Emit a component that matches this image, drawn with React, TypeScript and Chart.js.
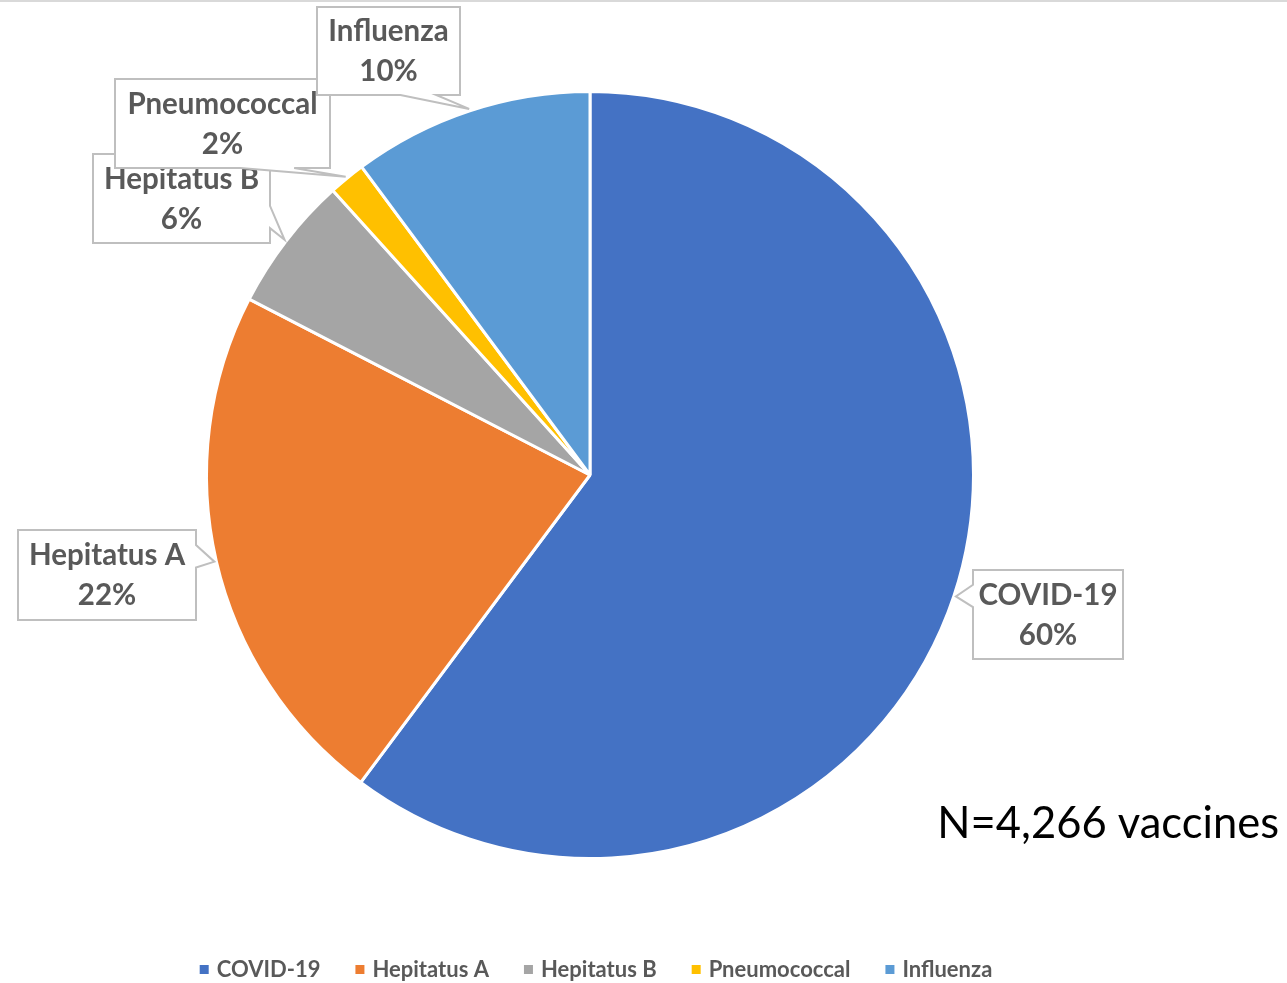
import React, { useEffect, useRef } from 'react';
import { Chart, registerables } from 'chart.js';

Chart.register(...registerables);

// ---- data ----
const categories = ['COVID-19', 'Hepitatus A', 'Hepitatus B', 'Pneumococcal', 'Influenza'];
const vaccineCounts = [2568, 955, 244, 66, 433];
const sliceColors = ['#4472C4', '#ED7D31', '#A5A5A5', '#FFC000', '#5B9BD5'];
const totalNote = 'N=4,266 vaccines';

// ---- layout of annotation callouts (left, top, width, height) ----
const calloutBoxes = [
  { x: 973, y: 570, w: 150, h: 89 },
  { x: 18, y: 530, w: 178, h: 90 },
  { x: 93, y: 154, w: 177, h: 89 },
  { x: 115, y: 79, w: 215, h: 89 },
  { x: 317, y: 7, w: 143, h: 88 },
];

const W = 1287;
const H = 983;
const FONT = 'Lato, "Noto Sans", sans-serif';
const TEXT_GRAY = '#595959';

function drawCallout(ctx: CanvasRenderingContext2D, b: { x: number; y: number; w: number; h: number }, tx: number, ty: number) {
  const L = b.x, R = b.x + b.w, T = b.y, B = b.y + b.h;
  const cx = b.x + b.w / 2, cy = b.y + b.h / 2;
  const nx = (tx - cx) / (b.w / 2);
  const ny = (ty - cy) / (b.h / 2);
  const inside = Math.abs(nx) <= 1 && Math.abs(ny) <= 1;
  let side = '';
  if (!inside) {
    if (Math.abs(ny) >= Math.abs(nx)) side = ny < 0 ? 'top' : 'bottom';
    else side = nx < 0 ? 'left' : 'right';
  }
  const xa = tx > cx ? L + (b.w * 7) / 12 : L + (b.w * 2) / 12;
  const xb = tx > cx ? L + (b.w * 10) / 12 : L + (b.w * 5) / 12;
  const ya = ty > cy ? T + (b.h * 7) / 12 : T + (b.h * 2) / 12;
  const yb = ty > cy ? T + (b.h * 10) / 12 : T + (b.h * 5) / 12;
  ctx.beginPath();
  ctx.moveTo(L, T);
  if (side === 'top') { ctx.lineTo(xa, T); ctx.lineTo(tx, ty); ctx.lineTo(xb, T); }
  ctx.lineTo(R, T);
  if (side === 'right') { ctx.lineTo(R, ya); ctx.lineTo(tx, ty); ctx.lineTo(R, yb); }
  ctx.lineTo(R, B);
  if (side === 'bottom') { ctx.lineTo(xb, B); ctx.lineTo(tx, ty); ctx.lineTo(xa, B); }
  ctx.lineTo(L, B);
  if (side === 'left') { ctx.lineTo(L, yb); ctx.lineTo(tx, ty); ctx.lineTo(L, ya); }
  ctx.closePath();
  ctx.fillStyle = '#ffffff';
  ctx.fill();
  ctx.strokeStyle = '#BFBFBF';
  ctx.lineWidth = 2;
  ctx.stroke();
}

const annotationPlugin = {
  id: 'annotations',
  beforeDraw(chart: any) {
    const ctx = chart.ctx as CanvasRenderingContext2D;
    ctx.save();
    ctx.fillStyle = '#ffffff';
    ctx.fillRect(0, 0, chart.width, chart.height);
    ctx.fillStyle = '#D9D9D9';
    ctx.fillRect(0, 0, chart.width, 2);
    ctx.restore();
  },
  afterDraw(chart: any) {
    const ctx = chart.ctx as CanvasRenderingContext2D;
    const meta = chart.getDatasetMeta(0);
    const data = chart.data.datasets[0].data as number[];
    const total = data.reduce((a, v) => a + v, 0);
    ctx.save();
    // callouts
    meta.data.forEach((arc: any, i: number) => {
      const mid = (arc.startAngle + arc.endAngle) / 2;
      const r = arc.outerRadius + 2;
      const tx = arc.x + Math.cos(mid) * r;
      const ty = arc.y + Math.sin(mid) * r;
      const b = calloutBoxes[i];
      drawCallout(ctx, b, tx, ty);
      const cx = b.x + b.w / 2;
      const cy = b.y + b.h / 2;
      ctx.fillStyle = TEXT_GRAY;
      ctx.font = `bold 29.5px ${FONT}`;
      ctx.textAlign = 'center';
      ctx.textBaseline = 'alphabetic';
      ctx.fillText(String(chart.data.labels[i]), cx, cy - 10);
      ctx.fillText(`${Math.round((data[i] / total) * 100)}%`, cx, cy + 30);
    });

    // N note
    ctx.fillStyle = '#000000';
    ctx.font = `43.5px ${FONT}`;
    ctx.textAlign = 'right';
    ctx.textBaseline = 'alphabetic';
    ctx.fillText(totalNote, 1279, 838);

    // legend
    ctx.font = `bold 22px ${FONT}`;
    ctx.textAlign = 'left';
    const box = 9, gapText = 8, gapItem = 35;
    const widths = (chart.data.labels as string[]).map((l) => ctx.measureText(l).width);
    const totalW = widths.reduce((a, w) => a + box + gapText + w, 0) + gapItem * (widths.length - 1);
    const centerX = (chart.chartArea.left + chart.chartArea.right) / 2 + 6;
    let x = centerX - totalW / 2;
    const baseY = 977;
    (chart.data.labels as string[]).forEach((l, i) => {
      ctx.fillStyle = sliceColors[i];
      ctx.fillRect(x, baseY - 12, box, box);
      x += box + gapText;
      ctx.fillStyle = TEXT_GRAY;
      ctx.fillText(l, x, baseY);
      x += widths[i] + gapItem;
    });
    ctx.restore();
  },
};

export default function App() {
  const canvasRef = useRef<HTMLCanvasElement | null>(null);

  useEffect(() => {
    document.body.style.margin = '0';
    const canvas = canvasRef.current;
    if (!canvas) return;
    const chart = new Chart(canvas, {
      type: 'pie',
      data: {
        labels: categories,
        datasets: [
          {
            data: vaccineCounts,
            backgroundColor: sliceColors,
            borderColor: '#ffffff',
            borderWidth: 3,
          },
        ],
      },
      options: {
        responsive: false,
        maintainAspectRatio: false,
        animation: false,
        devicePixelRatio: 1,
        layout: { padding: { left: 205, right: W - 975, top: 90, bottom: H - 860 } },
        plugins: {
          legend: { display: false },
          tooltip: { enabled: false },
        },
      },
      plugins: [annotationPlugin],
    });
    return () => chart.destroy();
  }, []);

  return (
    <div style={{ position: 'absolute', left: 0, top: 0, width: W, height: H }}>
      <canvas ref={canvasRef} width={W} height={H} style={{ width: W, height: H, display: 'block' }} />
    </div>
  );
}
